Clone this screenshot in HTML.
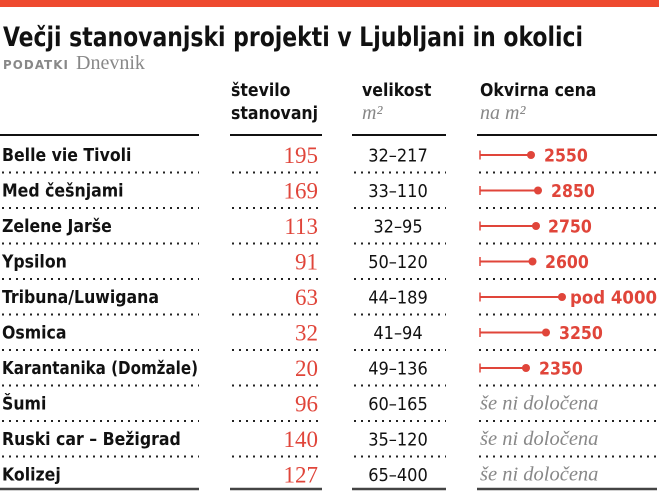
<!DOCTYPE html>
<html><head><meta charset="utf-8"><style>
html,body{margin:0;padding:0;background:#fff;}
svg{display:block;}
.t{font-family:"DejaVu Sans Condensed","Liberation Sans",sans-serif;}
.s{font-family:"Liberation Serif","DejaVu Serif",serif;}
</style></head><body>
<svg width="659" height="491" xmlns="http://www.w3.org/2000/svg">
<rect x="0" y="0" width="659" height="7" fill="#ee4a2f"/>
<text class="t" x="3" y="46" font-size="27" font-weight="bold" fill="#111" textLength="580" lengthAdjust="spacingAndGlyphs">Večji stanovanjski projekti v Ljubljani in okolici</text>
<text class="t" x="3" y="69" font-size="12" font-weight="bold" fill="#888" letter-spacing="1" textLength="66" lengthAdjust="spacingAndGlyphs">PODATKI</text>
<text class="s" x="76" y="69" font-size="20" fill="#888">Dnevnik</text>
<g class="t" font-size="17.5" font-weight="bold" fill="#111">
<text x="231" y="96">število</text>
<text x="231" y="119">stanovanj</text>
<text x="362" y="96">velikost</text>
<text x="480" y="96">Okvirna cena</text>
</g>
<g class="s" font-size="20" font-style="italic" fill="#888">
<text x="362" y="119">m²</text>
<text x="480" y="119">na m²</text>
</g>
<g stroke="#111" stroke-width="2">
<line x1="0" y1="135" x2="199" y2="135"/><line x1="230" y1="135" x2="322" y2="135"/>
<line x1="352" y1="135" x2="446" y2="135"/><line x1="477" y1="135" x2="657" y2="135"/>
</g>
<g stroke="#444" stroke-width="2.5">
<line x1="0" y1="489" x2="199" y2="489"/><line x1="230" y1="489" x2="322" y2="489"/>
<line x1="352" y1="489" x2="446" y2="489"/><line x1="477" y1="489" x2="657" y2="489"/>
</g>
<g stroke="#222" stroke-width="2" stroke-dasharray="2 5">
<line x1="2" y1="172.5" x2="199" y2="172.5"/><line x1="232" y1="172.5" x2="322" y2="172.5"/><line x1="354" y1="172.5" x2="446" y2="172.5"/><line x1="479" y1="172.5" x2="657" y2="172.5"/>
<line x1="2" y1="208" x2="199" y2="208"/><line x1="232" y1="208" x2="322" y2="208"/><line x1="354" y1="208" x2="446" y2="208"/><line x1="479" y1="208" x2="657" y2="208"/>
<line x1="2" y1="243.5" x2="199" y2="243.5"/><line x1="232" y1="243.5" x2="322" y2="243.5"/><line x1="354" y1="243.5" x2="446" y2="243.5"/><line x1="479" y1="243.5" x2="657" y2="243.5"/>
<line x1="2" y1="279" x2="199" y2="279"/><line x1="232" y1="279" x2="322" y2="279"/><line x1="354" y1="279" x2="446" y2="279"/><line x1="479" y1="279" x2="657" y2="279"/>
<line x1="2" y1="314.5" x2="199" y2="314.5"/><line x1="232" y1="314.5" x2="322" y2="314.5"/><line x1="354" y1="314.5" x2="446" y2="314.5"/><line x1="479" y1="314.5" x2="657" y2="314.5"/>
<line x1="2" y1="350" x2="199" y2="350"/><line x1="232" y1="350" x2="322" y2="350"/><line x1="354" y1="350" x2="446" y2="350"/><line x1="479" y1="350" x2="657" y2="350"/>
<line x1="2" y1="385.5" x2="199" y2="385.5"/><line x1="232" y1="385.5" x2="322" y2="385.5"/><line x1="354" y1="385.5" x2="446" y2="385.5"/><line x1="479" y1="385.5" x2="657" y2="385.5"/>
<line x1="2" y1="421" x2="199" y2="421"/><line x1="232" y1="421" x2="322" y2="421"/><line x1="354" y1="421" x2="446" y2="421"/><line x1="479" y1="421" x2="657" y2="421"/>
<line x1="2" y1="456.5" x2="199" y2="456.5"/><line x1="232" y1="456.5" x2="322" y2="456.5"/><line x1="354" y1="456.5" x2="446" y2="456.5"/><line x1="479" y1="456.5" x2="657" y2="456.5"/>
</g>
<g class="t" font-size="17.5" font-weight="bold" fill="#111">
<text x="2" y="161">Belle vie Tivoli</text>
<text x="2" y="196.5">Med češnjami</text>
<text x="2" y="232">Zelene Jarše</text>
<text x="2" y="267.5">Ypsilon</text>
<text x="2" y="303">Tribuna/Luwigana</text>
<text x="2" y="338.5">Osmica</text>
<text x="2" y="374" textLength="196" lengthAdjust="spacingAndGlyphs">Karantanika (Domžale)</text>
<text x="2" y="409.5">Šumi</text>
<text x="2" y="445">Ruski car – Bežigrad</text>
<text x="2" y="480.5">Kolizej</text>
</g>
<g class="s" font-size="23" fill="#e0453a" text-anchor="end">
<text x="318" y="163">195</text><text x="318" y="198.5">169</text><text x="318" y="234">113</text>
<text x="318" y="269.5">91</text><text x="318" y="305">63</text><text x="318" y="340.5">32</text>
<text x="318" y="376">20</text><text x="318" y="411.5">96</text><text x="318" y="447">140</text><text x="318" y="482.5">127</text>
</g>
<g class="t" font-size="18" fill="#111" text-anchor="middle">
<text x="398" y="161.5">32–217</text><text x="398" y="197">33–110</text><text x="398" y="232.5">32–95</text>
<text x="398" y="268">50–120</text><text x="398" y="303.5">44–189</text><text x="398" y="339">41–94</text>
<text x="398" y="374.5">49–136</text><text x="398" y="410">60–165</text><text x="398" y="445.5">35–120</text><text x="398" y="481">65–400</text>
</g>
<g stroke="#e0453a" stroke-width="2" fill="#e0453a">
<line x1="480" y1="155" x2="531" y2="155"/><line x1="480" y1="150.5" x2="480" y2="159.5" stroke-width="1.5"/><circle cx="531" cy="155" r="4" stroke="none"/>
<line x1="480" y1="190.5" x2="538" y2="190.5"/><line x1="480" y1="186" x2="480" y2="195" stroke-width="1.5"/><circle cx="538" cy="190.5" r="4" stroke="none"/>
<line x1="480" y1="226" x2="536" y2="226"/><line x1="480" y1="221.5" x2="480" y2="230.5" stroke-width="1.5"/><circle cx="536" cy="226" r="4" stroke="none"/>
<line x1="480" y1="261.5" x2="532.5" y2="261.5"/><line x1="480" y1="257" x2="480" y2="266" stroke-width="1.5"/><circle cx="532.5" cy="261.5" r="4" stroke="none"/>
<line x1="480" y1="297" x2="562" y2="297"/><line x1="480" y1="292.5" x2="480" y2="301.5" stroke-width="1.5"/><circle cx="562" cy="297" r="4" stroke="none"/>
<line x1="480" y1="332.5" x2="546" y2="332.5"/><line x1="480" y1="328" x2="480" y2="337" stroke-width="1.5"/><circle cx="546" cy="332.5" r="4" stroke="none"/>
<line x1="480" y1="368" x2="526" y2="368"/><line x1="480" y1="363.5" x2="480" y2="372.5" stroke-width="1.5"/><circle cx="526" cy="368" r="4" stroke="none"/>
</g>
<g class="t" font-size="17.5" font-weight="bold" fill="#e0453a">
<text x="544" y="161.5">2550</text><text x="551" y="197">2850</text><text x="548" y="232.5">2750</text>
<text x="545" y="268">2600</text><text x="570" y="303.5" textLength="87" lengthAdjust="spacingAndGlyphs">pod 4000</text><text x="559" y="339">3250</text><text x="539" y="374.5">2350</text>
</g>
<g class="s" font-size="20.5" font-style="italic" fill="#888">
<text x="480" y="409.5">še ni določena</text><text x="480" y="445">še ni določena</text><text x="480" y="480.5">še ni določena</text>
</g>
</svg>
</body></html>
